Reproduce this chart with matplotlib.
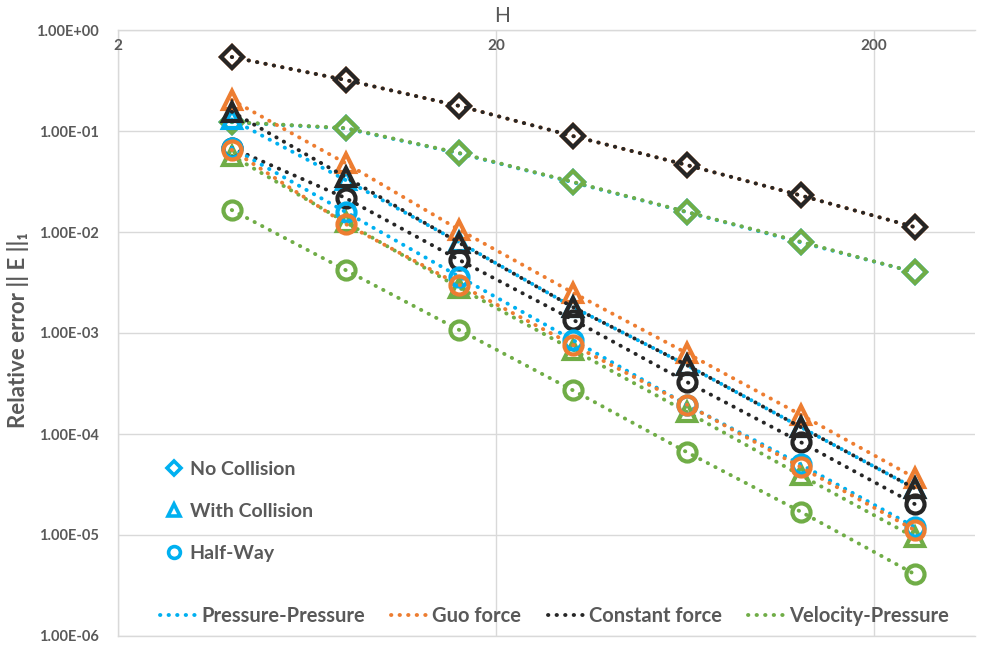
import matplotlib
matplotlib.use("Agg")
import matplotlib.pyplot as plt
from matplotlib.lines import Line2D
from matplotlib.ticker import FixedLocator, FuncFormatter, NullLocator

plt.rcParams['font.family'] = ['Lato', 'DejaVu Sans']

# ---------------- data ----------------
H = [4, 8, 16, 32, 64, 128, 256]

pp_nc = [0.122, 0.106, 0.060, 0.031, 0.0157, 0.0079, 0.0040]
pp_wc = [0.130, 0.0327, 0.0079, 0.0018, 0.00048, 0.000117, 2.9e-5]
pp_hw = [0.068, 0.0158, 0.0036, 0.00085, 0.000194, 5.0e-5, 1.2e-5]

guo_nc = [0.54, 0.32, 0.177, 0.089, 0.046, 0.023, 0.0112]
guo_wc = [0.203, 0.048, 0.0105, 0.0025, 0.00063, 0.000155, 3.7e-5]
guo_hw = [0.065, 0.012, 0.0030, 0.00076, 0.000195, 4.7e-5, 1.12e-5]

cf_nc = [0.54, 0.32, 0.177, 0.089, 0.046, 0.023, 0.0112]
cf_wc = [0.155, 0.035, 0.0078, 0.0018, 0.00048, 0.000117, 2.9e-5]
cf_hw = [0.068, 0.0217, 0.00528, 0.00135, 0.000327, 8.3e-5, 2.03e-5]

vp_nc = [0.123, 0.107, 0.0605, 0.0313, 0.0158, 0.0080, 0.0040]
vp_wc = [0.057, 0.0125, 0.0028, 0.00068, 0.000165, 3.9e-5, 9.5e-6]
vp_hw = [0.0165, 0.0042, 0.00107, 0.00027, 6.6e-5, 1.7e-5, 4.1e-6]

method_labels = ["Pressure-Pressure", "Guo force", "Constant force", "Velocity-Pressure"]
marker_labels = ["No Collision", "With Collision", "Half-Way"]
x_ticks = [2, 20, 200]
y_ticks = [1e0, 1e-1, 1e-2, 1e-3, 1e-4, 1e-5, 1e-6]

# ---------------- style ----------------
BLUE = "#00B0F0"
ORANGE = "#ED7D31"
BLACK = "#262626"
GREEN = "#70AD47"
GRAY = "#595959"
GRID = "#D9D9D9"

LW = 2.8
DOTS = (0, (0.1, 2.1))
MS = {"D": 11, "^": 13.5, "o": 13}
MEW = 3.0

fig = plt.figure(figsize=(9.86, 6.46), dpi=100)
ax = fig.add_axes([118 / 986, 1 - 636 / 646, (975 - 118) / 986, (636 - 30) / 646])
ax.set_xscale("log")
ax.set_yscale("log")
ax.set_xlim(2, 370)
ax.set_ylim(1e-6, 1e0)


def series(y, color, marker, z):
    ax.plot(H, y, color=color, lw=LW, linestyle=DOTS, dash_capstyle="round",
            marker=marker, ms=MS[marker], mew=MEW, mfc="none", mec=color,
            zorder=z)


# drawing order (bottom to top)
series(pp_nc, BLUE, "D", 3)
series(vp_nc, GREEN, "D", 4)
series(vp_wc, GREEN, "^", 5)
series(vp_hw, GREEN, "o", 6)
series(pp_wc, BLUE, "^", 7)
series(guo_nc, ORANGE, "D", 8)
series(guo_wc, ORANGE, "^", 9)
series(cf_hw, BLACK, "o", 10)
series(pp_hw, BLUE, "o", 11)
series(guo_hw, ORANGE, "o", 12)
series(cf_nc, BLACK, "D", 13)
series(cf_wc, BLACK, "^", 14)

# axes / grid
ax.xaxis.set_major_locator(FixedLocator(x_ticks))
ax.xaxis.set_minor_locator(NullLocator())
ax.yaxis.set_major_locator(FixedLocator(y_ticks))
ax.yaxis.set_minor_locator(NullLocator())
ax.grid(True, which="major", color=GRID, lw=1.0, zorder=0)
ax.set_axisbelow(True)
ax.tick_params(axis="both", length=0)
ax.set_xticklabels([])
ax.yaxis.set_major_formatter(FuncFormatter(lambda v, p: f"{v:.2E}"))
ax.tick_params(axis="y", labelsize=10.5, labelcolor=GRAY, pad=14)
for lab in ax.get_yticklabels():
    lab.set_fontweight("bold")

for s in ["left", "top", "bottom"]:
    ax.spines[s].set_color(GRID)
    ax.spines[s].set_linewidth(1.0)
ax.spines["right"].set_visible(False)

# top x tick labels (inside, below the top axis line)
for xv in x_ticks:
    ax.text(xv, 0.985, f"{xv}", transform=ax.get_xaxis_transform(),
            ha="center", va="top", fontsize=11, fontweight="bold", color=GRAY)

fig.text(502 / 986, 1 - 16 / 646, "H", ha="center", va="center",
         fontsize=15, color=GRAY)
fig.text(18 / 986, 1 - 330 / 646, "Relative error || E ||\u2081", rotation=90,
         ha="center", va="center", fontsize=16, fontweight="bold", color=GRAY)

# legend of methods (line colours)
line_handles = [Line2D([0], [0], color=c, lw=LW, linestyle=DOTS, dash_capstyle="round")
                for c in [BLUE, ORANGE, BLACK, GREEN]]
leg1 = ax.legend(line_handles, method_labels, loc="center", ncol=4,
                 bbox_to_anchor=(0.5 + (8 / 857), (636 - 616) / 606), frameon=False,
                 handlelength=1.9, handletextpad=0.15, columnspacing=1.3,
                 prop={"size": 14.5, "weight": "bold"})
for t in leg1.get_texts():
    t.set_color(GRAY)
ax.add_artist(leg1)

# legend of markers
mk_handles = [Line2D([0], [0], color=BLUE, lw=0, marker=m, ms=s, mew=2.6, mfc="none")
              for m, s in zip(["D", "^", "o"], [7, 9, 8.5])]
leg2 = ax.legend(mk_handles, marker_labels, loc="upper left",
                 bbox_to_anchor=(30 / 857, (636 - 443) / 606), frameon=False,
                 handlelength=0.9, handletextpad=0.35, labelspacing=1.3,
                 prop={"size": 14, "weight": "bold"})
for t in leg2.get_texts():
    t.set_color(GRAY)

fig.savefig("out.png", dpi=100)
